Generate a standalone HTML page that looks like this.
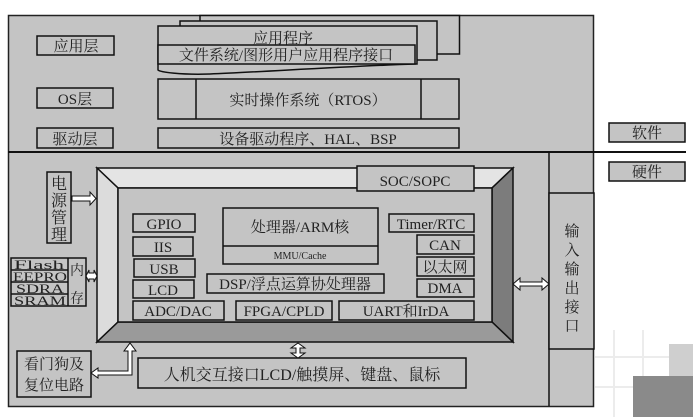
<!DOCTYPE html>
<html><head><meta charset="utf-8"><style>
html,body{margin:0;padding:0;background:#fff;}
svg{display:block}
text{font-family:"Liberation Serif","Noto Serif CJK SC","Noto Sans CJK SC",serif;fill:#222;}
</style></head><body>
<svg width="693" height="417" viewBox="0 0 693 417" xmlns="http://www.w3.org/2000/svg">
<g stroke="#ececec" stroke-width="2" fill="none">
<line x1="614" y1="330" x2="614" y2="417"/><line x1="643" y1="330" x2="643" y2="417"/><line x1="595" y1="357" x2="693" y2="357"/><line x1="595" y1="387" x2="693" y2="387"/>
</g>
<rect x="669" y="344" width="24" height="34" fill="#cfcfcf"/>
<rect x="633" y="376" width="60" height="41" fill="#8a8a8a"/>
<rect x="8.5" y="15.5" width="585" height="391" fill="#c4c4c4" stroke="#222" stroke-width="1.5"/>
<g fill="#c4c4c4" stroke="#111" stroke-width="1.5">
<rect x="200" y="15.5" width="259.5" height="38.5"/>
<rect x="180" y="21" width="257" height="39"/>
<path d="M158,26 H417 V64 H415 L415,64 C350,66 260,72 210,74 C180,75 160,72 158,70 Z"/>
</g>
<text x="283" y="43" font-size="15" text-anchor="middle">应用程序</text>
<g fill="#c4c4c4" stroke="#111" stroke-width="1.5">
<rect x="158" y="45" width="257" height="19"/>
<rect x="37" y="36" width="77" height="19"/>
<rect x="37" y="88" width="76" height="20"/>
<rect x="158" y="79" width="301" height="40"/>
<line x1="196" y1="79" x2="196" y2="119"/><line x1="421" y1="79" x2="421" y2="119"/>
<rect x="37" y="128" width="76" height="20"/>
<rect x="158" y="128" width="301" height="20"/>
<rect x="609" y="123" width="76" height="19"/>
<rect x="609" y="162" width="76" height="19"/>
</g>
<line x1="8" y1="152" x2="686" y2="152" stroke="#111" stroke-width="2"/>
<text x="76" y="51" font-size="15" text-anchor="middle">应用层</text>
<text x="286" y="60" font-size="15" text-anchor="middle">文件系统/图形用户应用程序接口</text>
<text x="75" y="104" font-size="15" text-anchor="middle">OS层</text>
<text x="308" y="105" font-size="15" text-anchor="middle">实时操作系统（RTOS）</text>
<text x="75" y="144" font-size="15" text-anchor="middle">驱动层</text>
<text x="308" y="144" font-size="15" text-anchor="middle">设备驱动程序、HAL、BSP</text>
<text x="647" y="138" font-size="15" text-anchor="middle">软件</text>
<text x="647" y="177" font-size="15" text-anchor="middle">硬件</text>
<g stroke="#111" stroke-width="1.5" fill="#c4c4c4">
<line x1="549" y1="152" x2="549" y2="406"/>
<rect x="549" y="193" width="45" height="156"/>
</g>
<text font-size="15" text-anchor="middle"><tspan x="572" y="236">输</tspan><tspan x="572" y="255">入</tspan><tspan x="572" y="274">输</tspan><tspan x="572" y="293">出</tspan><tspan x="572" y="312">接</tspan><tspan x="572" y="331">口</tspan></text>
<polygon points="97,168 513,168 492,188 118,188" fill="#e4e4e4" stroke="#111" stroke-width="1.5"/>
<polygon points="97,168 118,188 118,322 97,342" fill="#dcdcdc" stroke="#111" stroke-width="1.5"/>
<polygon points="513,168 513,342 492,322 492,188" fill="#7c7c7c" stroke="#111" stroke-width="1.5"/>
<polygon points="97,342 513,342 492,322 118,322" fill="#9a9a9a" stroke="#111" stroke-width="1.5"/>
<rect x="118" y="188" width="374" height="134" fill="#c4c4c4" stroke="#111" stroke-width="1.5"/>
<g fill="#c4c4c4" stroke="#111" stroke-width="1.5">
<rect x="357" y="166" width="117" height="25"/>
<rect x="133" y="214" width="62" height="18"/>
<rect x="133" y="237" width="60" height="19"/>
<rect x="134" y="259" width="61" height="18"/>
<rect x="133" y="280" width="61" height="18"/>
<rect x="133" y="301" width="91" height="19"/>
<rect x="236" y="301" width="96" height="19"/>
<rect x="339" y="301" width="135" height="19"/>
<rect x="223" y="208" width="155" height="56"/>
<line x1="223" y1="246" x2="378" y2="246"/>
<rect x="207" y="274" width="177" height="19"/>
<rect x="389" y="214" width="85" height="18"/>
<rect x="417" y="235" width="57" height="19"/>
<rect x="417" y="257" width="57" height="19"/>
<rect x="417" y="279" width="57" height="18"/>
<rect x="47" y="172" width="24" height="71"/>
<rect x="11" y="258" width="75" height="48"/>
<line x1="68" y1="258" x2="68" y2="306"/>
<line x1="11" y1="270" x2="68" y2="270"/><line x1="11" y1="282" x2="68" y2="282"/><line x1="11" y1="294" x2="68" y2="294"/>
<rect x="138" y="358" width="328" height="30"/>
<rect x="17" y="351" width="74" height="46"/>
</g>
<text x="415" y="186" font-size="15" text-anchor="middle">SOC/SOPC</text>
<text x="164" y="229" font-size="15" text-anchor="middle">GPIO</text>
<text x="163" y="252" font-size="15" text-anchor="middle">IIS</text>
<text x="164" y="274" font-size="15" text-anchor="middle">USB</text>
<text x="163" y="295" font-size="15" text-anchor="middle">LCD</text>
<text x="178" y="316" font-size="15" text-anchor="middle">ADC/DAC</text>
<text x="284" y="316" font-size="15" text-anchor="middle">FPGA/CPLD</text>
<text x="406" y="316" font-size="15" text-anchor="middle">UART和IrDA</text>
<text x="300" y="232" font-size="15" text-anchor="middle">处理器/ARM核</text>
<text x="300" y="259" font-size="10" font-family="Liberation Sans" text-anchor="middle">MMU/Cache</text>
<text x="295" y="289" font-size="15" text-anchor="middle">DSP/浮点运算协处理器</text>
<text x="431" y="229" font-size="15" text-anchor="middle">Timer/RTC</text>
<text x="445" y="250" font-size="15" text-anchor="middle">CAN</text>
<text x="445" y="272" font-size="15" text-anchor="middle">以太网</text>
<text x="445" y="293" font-size="15" text-anchor="middle">DMA</text>
<text font-size="16" text-anchor="middle"><tspan x="59" y="189">电</tspan><tspan x="59" y="206">源</tspan><tspan x="59" y="223">管</tspan><tspan x="59" y="240">理</tspan></text>
<text x="14" y="269" font-size="13" textLength="50" lengthAdjust="spacingAndGlyphs">Flash</text>
<text x="13" y="281" font-size="13" textLength="54" lengthAdjust="spacingAndGlyphs">EEPRO</text>
<text x="16" y="293" font-size="13" textLength="48" lengthAdjust="spacingAndGlyphs">SDRA</text>
<text x="14" y="305" font-size="13" textLength="52" lengthAdjust="spacingAndGlyphs">SRAM</text>
<text font-size="14" text-anchor="middle"><tspan x="77" y="275">内</tspan><tspan x="77" y="303">存</tspan></text>
<text x="302" y="380" font-size="16" text-anchor="middle">人机交互接口LCD/触摸屏、键盘、鼠标</text>
<text font-size="15" text-anchor="middle"><tspan x="54" y="369">看门狗及</tspan><tspan x="54" y="390">复位电路</tspan></text>
<g fill="#fff" stroke="#111" stroke-width="1">
<polygon points="72,196 90,196 90,192 96,198.5 90,205 90,201 72,201"/>
<polygon points="86,276 89,270 89,273 94,273 94,270 97,276 94,282 94,279 89,279 89,282"/>
<polygon points="513,284 520,278 520,282 542,282 542,278 549,284 542,290 542,286 520,286 520,290"/>
<polygon points="298,343 305,348 300,348 300,353 305,353 298,358 291,353 296,353 296,348 291,348"/>
<polygon points="91,373 98,368 98,371 128,371 128,351 124,351 130,343 136,351 132,351 132,375 98,375 98,378"/>
</g>
</svg>
</body></html>
